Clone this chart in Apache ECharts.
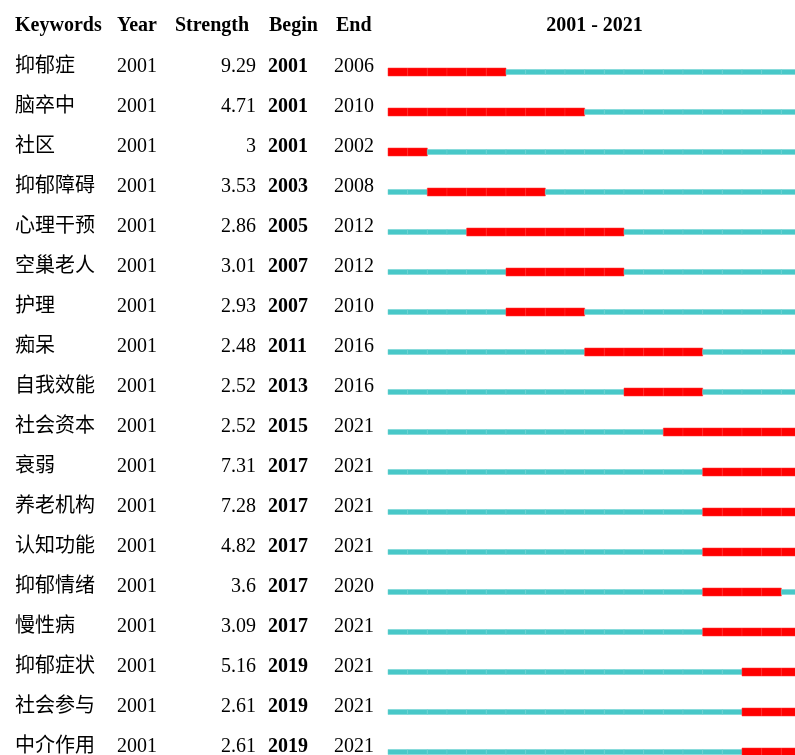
<!DOCTYPE html>
<html>
<head>
<meta charset="utf-8">
<script src="https://cdn.jsdelivr.net/npm/echarts@6/dist/echarts.min.js"></script>
<style>
  html, body { margin: 0; padding: 0; background: #fff; }
  #main { width: 795px; height: 755px; }
</style>
</head>
<body>
<div id="main"></div>
<script>
// burst table data
const keywords  = ['抑郁症', '脑卒中', '社区', '抑郁障碍', '心理干预', '空巢老人', '护理', '痴呆', '自我效能',
                   '社会资本', '衰弱', '养老机构', '认知功能', '抑郁情绪', '慢性病', '抑郁症状', '社会参与', '中介作用'];
const years     = [2001, 2001, 2001, 2001, 2001, 2001, 2001, 2001, 2001,
                   2001, 2001, 2001, 2001, 2001, 2001, 2001, 2001, 2001];
const strengths = [9.29, 4.71, 3, 3.53, 2.86, 3.01, 2.93, 2.48, 2.52,
                   2.52, 7.31, 7.28, 4.82, 3.6, 3.09, 5.16, 2.61, 2.61];
const begins    = [2001, 2001, 2001, 2003, 2005, 2007, 2007, 2011, 2013,
                   2015, 2017, 2017, 2017, 2017, 2017, 2019, 2019, 2019];
const ends      = [2006, 2010, 2002, 2008, 2012, 2012, 2010, 2016, 2016,
                   2021, 2021, 2021, 2021, 2020, 2021, 2021, 2021, 2021];
const headers   = ['Keywords', 'Year', 'Strength', 'Begin', 'End'];
const firstYear = 2001;
const lastYear  = 2021;

const FONT = '"Times New Roman","Liberation Serif","Noto Sans CJK SC",serif';
const GRID_LEFT = 388;

// one cell per keyword per year: [year, row, burst]
let cells = [];
for (let i in keywords) {
    for (let y = firstYear; y <= lastYear; y++) {
        let burst = (y >= begins[i] && y <= ends[i]) ? 1 : 0;
        cells.push([y, Number(i), burst]);
    }
}

function fnc_render_cell(params, api) {
    let year = api.value(0);
    let row = api.value(1);
    let burst = api.value(2);
    let p0 = api.coord([year, row]);
    let p1 = api.coord([year + 1, row]);
    let h = burst ? 8 : 5;
    return {
        type: 'rect',
        shape: { x: p0[0], y: p0[1] - h / 2, width: p1[0] - p0[0], height: h },
        style: {
            fill: burst ? '#ff0000' : '#48c8c8',
            stroke: burst ? '#ff3030' : '#6fd2d2',
            lineWidth: 0.5
        }
    };
}

// a text column is a y axis with its own labels
function fnc_column_axis(values, x, align, bold) {
    return {
        type: 'category',
        inverse: true,
        position: 'left',
        data: keywords,
        axisLine: { show: false },
        axisTick: { show: false },
        splitLine: { show: false },
        axisLabel: {
            align: align,
            verticalAlign: 'bottom',
            lineHeight: 10,
            margin: GRID_LEFT - x,
            fontFamily: FONT,
            fontSize: 20,
            fontWeight: bold ? 'bold' : 'normal',
            color: '#000',
            formatter: function (value, index) {
                return String(values[index]);
            }
        }
    };
}

const chart = echarts.init(document.getElementById('main'), null, { renderer: 'canvas' });

chart.setOption({
    backgroundColor: '#ffffff',
    animation: false,
    title: {
        text: '{hk|' + headers[0] + '}{hy|' + headers[1] + '}{hs|' + headers[2] + '}{hb|' + headers[3] + '}{he|' + headers[4] + '}',
        left: 15,
        top: 16,
        padding: 0,
        textStyle: {
            fontFamily: FONT,
            fontSize: 20,
            fontWeight: 'bold',
            color: '#000',
            rich: {
                hk: { width: 102, fontFamily: FONT, fontSize: 20, fontWeight: 'bold', color: '#000' },
                hy: { width: 58, fontFamily: FONT, fontSize: 20, fontWeight: 'bold', color: '#000' },
                hs: { width: 94, fontFamily: FONT, fontSize: 20, fontWeight: 'bold', color: '#000' },
                hb: { width: 67, fontFamily: FONT, fontSize: 20, fontWeight: 'bold', color: '#000' },
                he: { fontFamily: FONT, fontSize: 20, fontWeight: 'bold', color: '#000' }
            }
        }
    },
    grid: {
        left: GRID_LEFT, top: 52, width: 413, height: 720,
        containLabel: false, outerBoundsMode: 'none'
    },
    xAxis: {
        type: 'value',
        position: 'top',
        min: firstYear,
        max: lastYear + 1,
        name: firstYear + ' - ' + lastYear,
        nameLocation: 'middle',
        nameGap: 16,
        nameTextStyle: { fontFamily: FONT, fontSize: 20, fontWeight: 'bold', color: '#000' },
        axisLine: { show: false },
        axisTick: { show: false },
        axisLabel: { show: false },
        splitLine: { show: false }
    },
    yAxis: [
        fnc_column_axis(keywords, 15, 'left', false),
        fnc_column_axis(years, 117, 'left', false),
        fnc_column_axis(strengths, 256, 'right', false),
        fnc_column_axis(begins, 268, 'left', true),
        fnc_column_axis(ends, 334, 'left', false)
    ],
    series: [{
        type: 'custom',
        renderItem: fnc_render_cell,
        encode: { x: 0, y: 1 },
        yAxisIndex: 0,
        data: cells,
        clip: false
    }]
});
</script>
</body>
</html>
